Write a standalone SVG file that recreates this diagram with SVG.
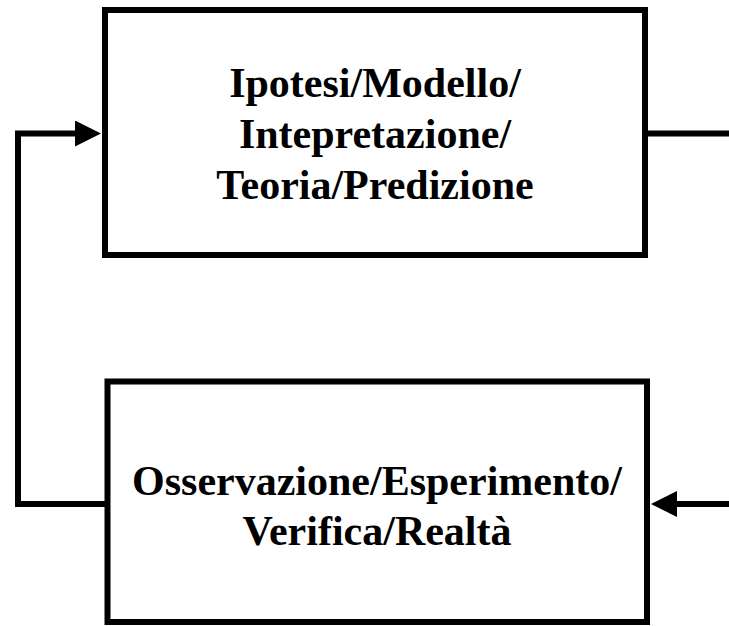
<svg xmlns="http://www.w3.org/2000/svg" width="729" height="626" viewBox="0 0 729 626">
<style>
.box{fill:#fff;stroke:#000;stroke-width:6}
.lbl{font-family:"Liberation Serif","Times New Roman",serif;font-weight:bold;font-size:42px;fill:#000;text-anchor:middle}
.conn{fill:none;stroke:#000;stroke-width:6;stroke-linejoin:miter}
</style>
<defs>
<marker id="arr" viewBox="0 0 26 26" markerWidth="26" markerHeight="26" markerUnits="userSpaceOnUse" refX="2" refY="13" orient="auto">
<path d="M0,0 L26,13 L0,26 z" fill="#000"/>
</marker>
</defs>
<rect width="729" height="626" fill="#fff"/>
<g id="connectors">
<path class="conn" d="M107,504 H18 V133.5 H77" marker-end="url(#arr)"/>
<path class="conn" d="M648,133.5 H729"/>
<path class="conn" d="M729,504 H675" marker-end="url(#arr)"/>
</g>
<g id="node-ipotesi">
<rect class="box" x="105" y="10" width="540" height="245"/>
<text class="lbl" x="375" y="97">Ipotesi/Modello/</text>
<text class="lbl" x="375" y="148">Intepretazione/</text>
<text class="lbl" x="375" y="199">Teoria/Predizione</text>
</g>
<g id="node-osservazione">
<rect class="box" x="107.5" y="381.5" width="539.5" height="240.5"/>
<text class="lbl" x="377" y="495">Osservazione/Esperimento/</text>
<text class="lbl" x="377" y="545">Verifica/Realtà</text>
</g>
</svg>
